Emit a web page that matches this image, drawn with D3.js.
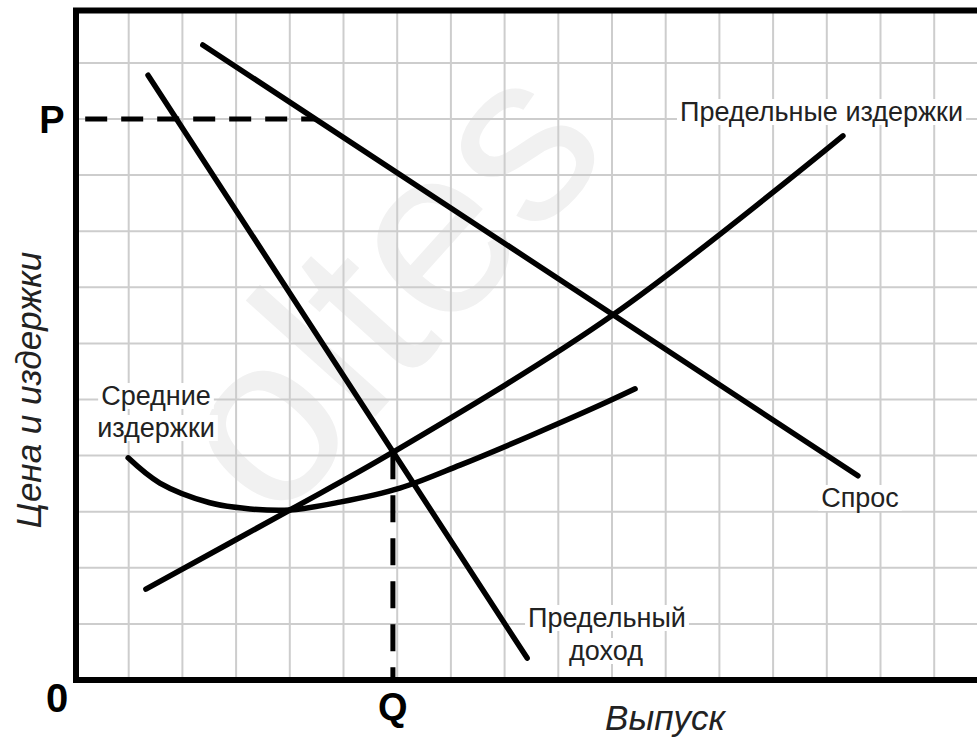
<!DOCTYPE html>
<html>
<head>
<meta charset="utf-8">
<script src="https://cdn.jsdelivr.net/npm/d3@7"></script>
<style>
html,body{margin:0;padding:0;background:#fff;}
</style>
</head>
<body>
<div id="chart"></div>
<script>
// кривые в единицах сетки (x – выпуск, y – цена и издержки)
var demandPts=[[2.38,11.32],[14.58,3.64]];
var mrPts=[[1.36,10.78],[8.42,0.39]];
var mcPts=[[1.32,1.62],[4.00,3.03],[5.92,4.06],[10.02,6.51],[14.30,9.70]];
var acPts=[[0.99,3.96],[1.58,3.51],[2.51,3.16],[3.26,3.05],[4.00,3.03],[4.93,3.17],[6.05,3.42],[7.17,3.83],[8.47,4.35],[9.78,4.90],[10.43,5.19]];
var pLevel=10.0, pFrom=0.19, pTo=4.48;
var qLevel=5.92, qTop=4.06;
var gridX=d3.range(1,17), gridY=d3.range(1,12);
var curveLabels=['Предельные издержки','Средние','издержки','Предельный','доход','Спрос'];

var W=977,H=738;
var oSvg=d3.select('#chart').append('svg')
	.attr('width',W).attr('height',H)
	.style('font-family','"Liberation Sans", Arial, sans-serif');

var x=d3.scaleLinear().domain([0,17]).range([75,75+17*53.7]);
var y=d3.scaleLinear().domain([0,11]).range([680,680-11*56.1]);
var yTop=10.5;	//верхняя рамка

// водяной знак
oSvg.append('text')
	.attr('transform','translate(275,528) rotate(-48)')
	.attr('font-size',240)
	.attr('fill','#f1f1f1')
	.text('oltes');

//-----------------------------сетка--------------------------------------
var oGrid=oSvg.append('g').attr('stroke','#cdcdcd').attr('stroke-width',2);
oGrid.selectAll('line.v').data(gridX).enter().append('line')
	.attr('class','v')
	.attr('x1',function(d){return x(d)}).attr('x2',function(d){return x(d)})
	.attr('y1',yTop).attr('y2',y(0));
oGrid.selectAll('line.h').data(gridY).enter().append('line')
	.attr('class','h')
	.attr('x1',x(0)).attr('x2',W)
	.attr('y1',function(d){return y(d)}).attr('y2',function(d){return y(d)});

//-----------------------------пунктир P и Q--------------------------------------
oSvg.append('line')
	.attr('x1',x(pFrom)).attr('x2',x(pTo))
	.attr('y1',y(pLevel)).attr('y2',y(pLevel))
	.attr('stroke','#000').attr('stroke-width',5)
	.attr('stroke-dasharray','22,14');
oSvg.append('line')
	.attr('x1',x(qLevel)).attr('x2',x(qLevel))
	.attr('y1',y(qTop)).attr('y2',y(0))
	.attr('stroke','#000').attr('stroke-width',5)
	.attr('stroke-dasharray','27,16');

//-----------------------------кривые--------------------------------------
var line=d3.line().x(function(d){return x(d[0])}).y(function(d){return y(d[1])});
var smooth=d3.line().x(function(d){return x(d[0])}).y(function(d){return y(d[1])}).curve(d3.curveCatmullRom);
[[demandPts,line],[mrPts,line],[mcPts,smooth],[acPts,smooth]].forEach(function(c){
	oSvg.append('path')
		.attr('d',c[1](c[0]))
		.attr('fill','none')
		.attr('stroke','#000')
		.attr('stroke-width',5.5)
		.attr('stroke-linecap','round');
});

//-----------------------------рамка--------------------------------------
oSvg.append('path')
	.attr('d','M'+W+' '+yTop+'H'+(x(0)+1)+'V'+y(0)+'H'+W)
	.attr('fill','none').attr('stroke','#000').attr('stroke-width',6);

//-----------------------------подписи кривых--------------------------------------
var labelPos=[[680,121,'start'],[156,405,'middle'],[156,437,'middle'],[607,627,'middle'],[606,660,'middle'],[860,507,'middle']];
curveLabels.forEach(function(t,i){
	var g=oSvg.append('g');
	var bg=g.append('rect').attr('fill','#fff');
	var txt=g.append('text')
		.attr('x',labelPos[i][0]).attr('y',labelPos[i][1])
		.attr('text-anchor',labelPos[i][2])
		.attr('font-size',27).attr('fill','#222')
		.text(t);
	var b=txt.node().getBBox();
	bg.attr('x',b.x-3).attr('y',b.y+2).attr('width',b.width+6).attr('height',b.height-4);
});

//-----------------------------оси--------------------------------------
oSvg.append('text').attr('x',52).attr('y',133).attr('text-anchor','middle')
	.attr('font-size',38).attr('font-weight','bold').text('P');
oSvg.append('text').attr('x',57).attr('y',712).attr('text-anchor','middle')
	.attr('font-size',40).attr('font-weight','bold').text('0');
oSvg.append('text').attr('x',x(qLevel)).attr('y',720).attr('text-anchor','middle')
	.attr('font-size',38).attr('font-weight','bold').text('Q');
oSvg.append('text').attr('x',665).attr('y',730).attr('text-anchor','middle')
	.attr('font-size',35).attr('font-style','italic').attr('fill','#222').text('Выпуск');
oSvg.append('text').attr('transform','translate(41,390) rotate(-90)').attr('text-anchor','middle')
	.attr('font-size',35).attr('font-style','italic').attr('fill','#222').text('Цена и издержки');
</script>
</body>
</html>
